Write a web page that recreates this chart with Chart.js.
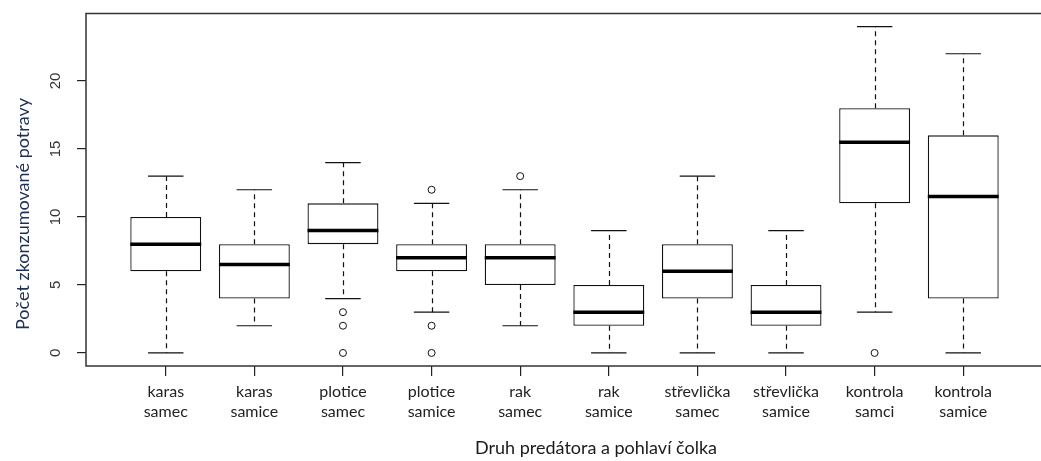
<!DOCTYPE html>
<html>
<head>
<meta charset="utf-8">
<script src="https://cdn.jsdelivr.net/npm/chart.js@4.4.1/dist/chart.umd.min.js"></script>
<style>
  body { margin: 0; background: #fff; }
  #wrap { width: 1041px; height: 461px; overflow: hidden; }
</style>
</head>
<body>
<div id="wrap"><canvas id="boxChart" width="1050" height="461"></canvas></div>
<script>
// kategorie a hodnoty boxplotu
const categories = [
  ['karas', 'samec'], ['karas', 'samice'], ['plotice', 'samec'], ['plotice', 'samice'],
  ['rak', 'samec'], ['rak', 'samice'], ['střevlička', 'samec'], ['střevlička', 'samice'],
  ['kontrola', 'samci'], ['kontrola', 'samice']
];
const whiskerLow = [0, 2, 4, 3, 2, 0, 0, 0, 3, 0];
const q1 = [6, 4, 8, 6, 5, 2, 4, 2, 11, 4];
const median = [8, 6.5, 9, 7, 7, 3, 6, 3, 15.5, 11.5];
const q3 = [10, 8, 11, 8, 8, 5, 8, 5, 18, 16];
const whiskerHigh = [13, 12, 14, 11, 12, 9, 13, 9, 24, 22];
const outliers = [[], [], [3, 2, 0], [12, 2, 0], [13], [], [], [], [0], []];
const yTicks = [0, 5, 10, 15, 20];

const boxData = categories.map((c, i) => ({ x: i + 1, y: [q1[i], q3[i]] }));
const outlierData = [];
outliers.forEach((list, i) => list.forEach(v => outlierData.push({ x: i + 1, y: v })));

// whiskery, medianu, ramecek a popisky kreslime pres skaly grafu
const boxParts = {
  id: 'boxParts',
  afterDatasetsDraw(chart) {
    const { ctx, scales: { x, y } } = chart;
    const line = (x1, y1, x2, y2) => {
      ctx.beginPath(); ctx.moveTo(x1, y1); ctx.lineTo(x2, y2); ctx.stroke();
    };
    ctx.save();
    categories.forEach((c, i) => {
      const px = Math.round(x.getPixelForValue(i + 1)) + 0.5;
      const capL = x.getPixelForValue(i + 0.8), capR = x.getPixelForValue(i + 1.2);
      const boxL = x.getPixelForValue(i + 0.6), boxR = x.getPixelForValue(i + 1.4);
      ctx.strokeStyle = '#111';
      ctx.lineWidth = 1.2;
      ctx.setLineDash([5, 4]);
      line(px, y.getPixelForValue(q3[i]), px, y.getPixelForValue(whiskerHigh[i]));
      line(px, y.getPixelForValue(q1[i]), px, y.getPixelForValue(whiskerLow[i]));
      ctx.setLineDash([]);
      line(capL, y.getPixelForValue(whiskerHigh[i]), capR, y.getPixelForValue(whiskerHigh[i]));
      line(capL, y.getPixelForValue(whiskerLow[i]), capR, y.getPixelForValue(whiskerLow[i]));
      ctx.strokeStyle = '#000';
      ctx.lineWidth = 3.5;
      line(boxL, y.getPixelForValue(median[i]), boxR, y.getPixelForValue(median[i]));
    });
    ctx.restore();
  },
  afterDraw(chart) {
    const { ctx, chartArea: a, scales: { y } } = chart;
    ctx.save();
    ctx.strokeStyle = '#333';
    ctx.lineWidth = 1.5;
    ctx.strokeRect(a.left, a.top, a.right - a.left, a.bottom - a.top);

    // y popisky otocene jako v R
    ctx.fillStyle = '#333';
    ctx.font = '15px "Liberation Sans", Arial, sans-serif';
    ctx.textAlign = 'center';
    ctx.textBaseline = 'middle';
    yTicks.forEach(v => {
      ctx.save();
      ctx.translate(56, y.getPixelForValue(v));
      ctx.rotate(-Math.PI / 2);
      ctx.fillText(String(v), 0, 0);
      ctx.restore();
    });

    ctx.save();
    ctx.fillStyle = '#1f3056';
    ctx.font = '18px Lato, sans-serif';
    ctx.translate(23, 214);
    ctx.rotate(-Math.PI / 2);
    ctx.fillText('Počet zkonzumované potravy', 0, 0);
    ctx.restore();

    ctx.fillStyle = '#1a1a1a';
    ctx.font = '18px Lato, sans-serif';
    ctx.fillText('Druh predátora a pohlaví čolka', 596, 448);
    ctx.restore();
  }
};

const ctx = document.getElementById('boxChart').getContext('2d');
new Chart(ctx, {
  type: 'bar',
  data: {
    datasets: [{
      data: boxData,
      backgroundColor: '#fff',
      borderColor: '#111',
      borderWidth: 1.3,
      borderSkipped: false,
      barPercentage: 0.8,
      categoryPercentage: 1
    }, {
      type: 'scatter',
      data: outlierData,
      pointRadius: 3.5,
      pointBorderWidth: 1,
      pointBorderColor: '#111',
      pointBackgroundColor: '#fff'
    }]
  },
  options: {
    responsive: false,
    animation: false,
    layout: { padding: { top: 13.5, right: 7, left: 0, bottom: 0 } },
    plugins: { legend: { display: false }, tooltip: { enabled: false } },
    scales: {
      x: {
        type: 'linear',
        offset: false,
        min: 0.1,
        max: 10.9,
        afterBuildTicks: (scale) => { scale.ticks = categories.map((c, i) => ({ value: i + 1 })); },
        afterFit: (scale) => { scale.height = 95; },
        grid: { offset: false, drawOnChartArea: false, drawTicks: true, tickLength: 10, color: '#222', lineWidth: 1.2 },
        border: { display: false },
        ticks: {
          autoSkip: false,
          maxRotation: 0,
          padding: 6,
          color: '#222',
          font: { family: 'Lato', size: 16, lineHeight: 1.25 },
          callback: (v) => categories[v - 1] || ''
        }
      },
      y: {
        min: -0.96,
        max: 24.96,
        afterBuildTicks: (scale) => { scale.ticks = yTicks.map(v => ({ value: v })); },
        afterFit: (scale) => { scale.width = 86; },
        grid: { drawOnChartArea: false, drawTicks: true, tickLength: 9, color: '#222', lineWidth: 1.2 },
        border: { display: false },
        ticks: { display: false }
      }
    }
  },
  plugins: [boxParts]
});
</script>
</body>
</html>
